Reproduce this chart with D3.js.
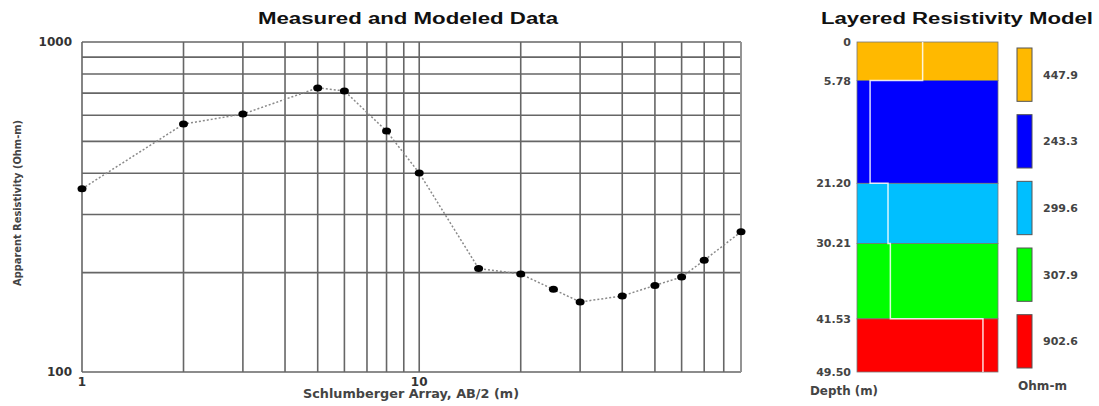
<!DOCTYPE html>
<html>
<head>
<meta charset="utf-8">
<script src="https://cdn.jsdelivr.net/npm/d3@7"></script>
<style>
  body { margin: 0; background: #fff; }
  text { font-family: "DejaVu Sans", "Liberation Sans", Arial, sans-serif; }
  .title { font-family: "Liberation Sans", Arial, sans-serif; }
</style>
</head>
<body>
<div id="chart"></div>
<script>
// Data
const spacing = [1, 2, 3, 5, 6, 8, 10, 15, 20, 25, 30, 40, 50, 60, 70, 90]; // AB/2 (m)
const apparentRes = [359, 564, 605, 726, 711, 537, 401, 206, 198, 178, 163, 170, 183, 194, 218, 266];
const xTicks = [1, 10];
const yTicks = [100, 1000];

const depthTops = [0, 5.78, 21.2, 30.21, 41.53];
const depthBottoms = [5.78, 21.2, 30.21, 41.53, 49.5];
const depthLabels = ["0", "5.78", "21.20", "30.21", "41.53", "49.50"];
const layerRes = [447.9, 243.3, 299.6, 307.9, 902.6];
const layerColors = ["#ffb900", "#0000ff", "#00bfff", "#00ff00", "#ff0000"];

// Dimensions
const width = 1099, height = 406;
const plot = { left: 82, right: 741, top: 42, bottom: 372 };
const col = { left: 857, right: 998 };

const svg = d3.select("#chart").append("svg")
  .attr("width", width).attr("height", height);

// Scales
const xScale = d3.scaleLog().domain([1, 90]).range([plot.left, plot.right]);
const yScale = d3.scaleLog().domain([100, 1000]).range([plot.bottom, plot.top]);

// grid lines (every 1..9 x 10^k)
const xGrid = [];
for (let d = 1; d <= 10; d *= 10) for (let m = 1; m <= 9; m++) if (m * d <= 90) xGrid.push(m * d);
const yGrid = d3.range(100, 1001, 100);

const grid = svg.append("g").attr("stroke", "#666").attr("stroke-width", 1.6);
grid.selectAll(".vg").data(xGrid).join("line")
  .attr("x1", d => xScale(d)).attr("x2", d => xScale(d))
  .attr("y1", plot.top).attr("y2", plot.bottom);
grid.selectAll(".hg").data(yGrid).join("line")
  .attr("x1", plot.left).attr("x2", plot.right)
  .attr("y1", d => yScale(d)).attr("y2", d => yScale(d));
grid.append("line").attr("x1", plot.right).attr("x2", plot.right)
  .attr("y1", plot.top).attr("y2", plot.bottom).attr("stroke", "#999");

// measured curve
const line = d3.line().x((d, i) => xScale(spacing[i])).y(d => yScale(d));
svg.append("path").datum(apparentRes)
  .attr("d", line).attr("fill", "none")
  .attr("stroke", "#8a8a8a").attr("stroke-width", 1.5)
  .attr("stroke-dasharray", "2,2");

svg.selectAll(".pt").data(apparentRes).join("ellipse")
  .attr("cx", (d, i) => xScale(spacing[i])).attr("cy", d => yScale(d))
  .attr("rx", 4.5).attr("ry", 3.5).attr("fill", "#000");

// tick labels
svg.selectAll(".yt").data(yTicks).join("text")
  .attr("x", plot.left - 10).attr("y", d => yScale(d) + 4)
  .attr("text-anchor", "end").attr("font-size", 12).attr("font-weight", "bold")
  .attr("fill", "#333").text(d => d);
svg.selectAll(".xt").data(xTicks).join("text")
  .attr("x", d => xScale(d)).attr("y", plot.bottom + 14)
  .attr("text-anchor", "middle").attr("font-size", 12).attr("font-weight", "bold")
  .attr("fill", "#333").text(d => d);

// titles / axis labels
svg.append("text").attr("class", "title").attr("x", 408).attr("y", 24).attr("text-anchor", "middle")
  .attr("font-size", 16).attr("font-weight", "bold").attr("fill", "#111")
  .attr("textLength", 300).attr("lengthAdjust", "spacingAndGlyphs")
  .text("Measured and Modeled Data");
svg.append("text").attr("x", 411).attr("y", 398).attr("text-anchor", "middle")
  .attr("font-size", 11.5).attr("font-weight", "bold").attr("fill", "#444")
  .attr("textLength", 216).attr("lengthAdjust", "spacingAndGlyphs")
  .text("Schlumberger Array, AB/2 (m)");
svg.append("text").attr("transform", "translate(21,203) rotate(-90)")
  .attr("text-anchor", "middle").attr("font-size", 10).attr("font-weight", "bold").attr("fill", "#444")
  .attr("textLength", 166).attr("lengthAdjust", "spacingAndGlyphs")
  .text("Apparent Resistivity (Ohm-m)");

// Layered model
const depthScale = d3.scaleLinear().domain([0, 49.5]).range([plot.top, plot.bottom]);
const resScale = d3.scaleLog().domain([209, 1075]).range([col.left, col.right]);

svg.selectAll(".layer").data(layerRes).join("rect")
  .attr("x", col.left).attr("width", col.right - col.left)
  .attr("y", (d, i) => depthScale(depthTops[i]))
  .attr("height", (d, i) => depthScale(depthBottoms[i]) - depthScale(depthTops[i]))
  .attr("fill", (d, i) => layerColors[i])
  .attr("stroke", "#777").attr("stroke-width", 0.8);

// step line of the model
const steps = [];
layerRes.forEach((r, i) => {
  steps.push([resScale(r), depthScale(depthTops[i])]);
  steps.push([resScale(r), depthScale(depthBottoms[i])]);
});
svg.append("path").attr("d", d3.line()(steps))
  .attr("fill", "none").attr("stroke", "#fff").attr("stroke-width", 1.5)
  .attr("stroke-opacity", 0.85);

const depthVals = depthTops.concat([49.5]);
svg.selectAll(".dl").data(depthLabels).join("text")
  .attr("x", 851).attr("y", (d, i) => depthScale(depthVals[i]) + 4)
  .attr("text-anchor", "end").attr("font-size", 11).attr("font-weight", "bold")
  .attr("fill", "#444").text(d => d);

svg.append("text").attr("class", "title").attr("x", 957).attr("y", 24).attr("text-anchor", "middle")
  .attr("font-size", 16).attr("font-weight", "bold").attr("fill", "#111")
  .attr("textLength", 272).attr("lengthAdjust", "spacingAndGlyphs")
  .text("Layered Resistivity Model");
svg.append("text").attr("x", 810).attr("y", 395)
  .attr("font-size", 11.5).attr("font-weight", "bold").attr("fill", "#444")
  .attr("textLength", 68).attr("lengthAdjust", "spacingAndGlyphs")
  .text("Depth (m)");

// legend
const legendY = d3.scaleBand().domain(d3.range(layerRes.length))
  .range([48, 368]).paddingInner(0.2);
const legend = svg.selectAll(".lg").data(layerRes).join("g");
legend.append("rect")
  .attr("x", 1017).attr("width", 15)
  .attr("y", (d, i) => legendY(i)).attr("height", legendY.bandwidth())
  .attr("fill", (d, i) => layerColors[i]).attr("stroke", "#555").attr("stroke-width", 1);
legend.append("text")
  .attr("x", 1043).attr("y", (d, i) => legendY(i) + legendY.bandwidth() / 2 + 4)
  .attr("font-size", 11).attr("font-weight", "bold").attr("fill", "#444")
  .text(d => d.toFixed(1));
svg.append("text").attr("x", 1018).attr("y", 390)
  .attr("font-size", 11.5).attr("font-weight", "bold").attr("fill", "#444")
  .attr("textLength", 49).attr("lengthAdjust", "spacingAndGlyphs")
  .text("Ohm-m");
</script>
</body>
</html>
